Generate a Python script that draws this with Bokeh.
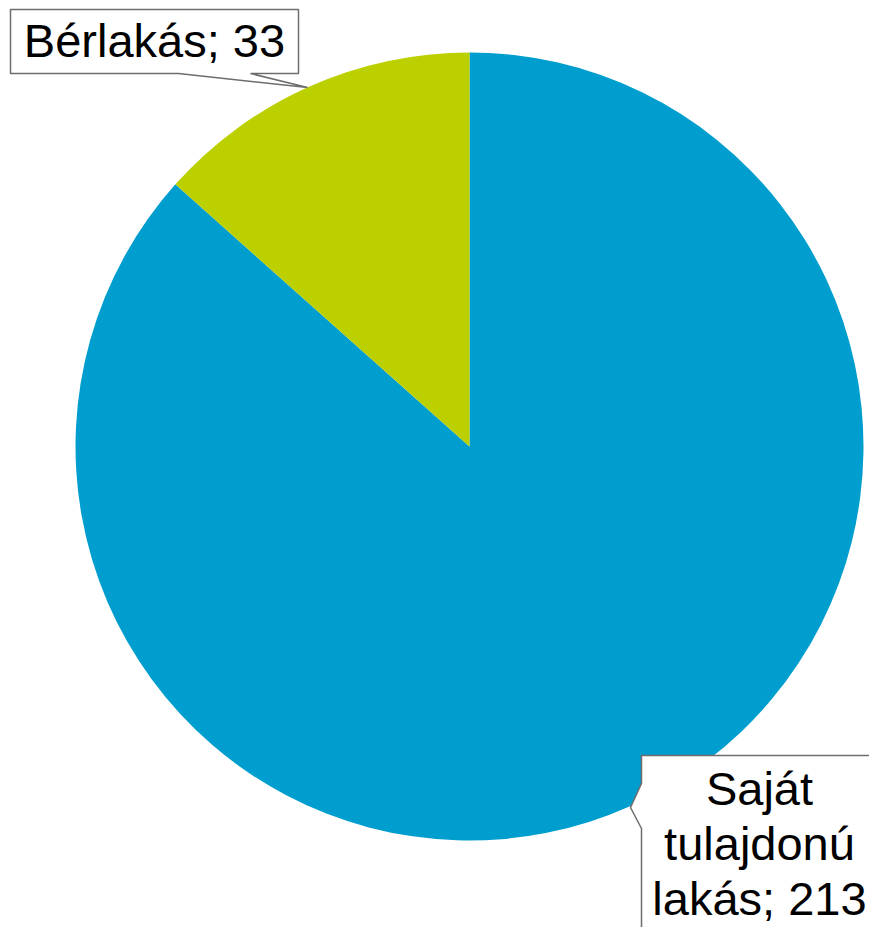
import math
from bokeh.plotting import figure
from bokeh.models import Range1d, ColumnDataSource
from bokeh.core.properties import value
from bokeh.embed import file_html
from bokeh.resources import INLINE

# data
categories = ["Saját tulajdonú lakás", "Bérlakás"]
values = [213, 33]
colors = ["#009ECE", "#BCD000"]

W, H = 869, 927
p = figure(width=W, height=H, x_range=Range1d(0, W), y_range=Range1d(0, H),
           output_backend="svg", toolbar_location=None, min_border=0)
p.axis.visible = False
p.grid.visible = False
p.outline_line_color = None
p.background_fill_color = "white"

def Y(py):
    return H - py

cx, cy, r = 469, Y(446), 394
total = sum(values)
starts, ends = [], []
cum = 0
for v in values:
    starts.append(math.pi / 2 - 2 * math.pi * cum / total)
    cum += v
    ends.append(math.pi / 2 - 2 * math.pi * cum / total)

src = ColumnDataSource(dict(x=[cx] * len(values), y=[cy] * len(values),
                            start=starts, end=ends, color=colors))
p.wedge(x="x", y="y", radius=r, start_angle="start", end_angle="end",
        direction="clock", fill_color="color", line_color=None, source=src)

# callout label boxes (pixel layout)
box1 = [(10, 9), (298, 9), (298, 73), (250, 73), (307, 87), (178, 73), (10, 73)]
box2 = [(641, 755), (885, 755), (885, 945), (641, 945), (641, 828), (630, 807), (641, 783)]
for b in (box1, box2):
    p.patch([q[0] for q in b], [Y(q[1]) for q in b], fill_color="white",
            line_color="#6d6d6d", line_width=1.5)

font = value("Liberation Sans")
off = 17
lab1 = f"{categories[1]}; {values[1]}"
p.text(x=[154], y=[Y(57 - off)], text=[lab1], text_font=font, text_font_size="47px",
       text_align="center", text_baseline="alphabetic", text_color="black")

lines2 = ["Saját", "tulajdonú", f"lakás; {values[0]}"]
p.text(x=[759] * 3, y=[Y(805 - off), Y(860 - off), Y(915 - off)], text=lines2, text_font=font,
       text_font_size="47px", text_align="center", text_baseline="alphabetic",
       text_color="black")

open("out.html", "w").write(file_html(p, INLINE))
